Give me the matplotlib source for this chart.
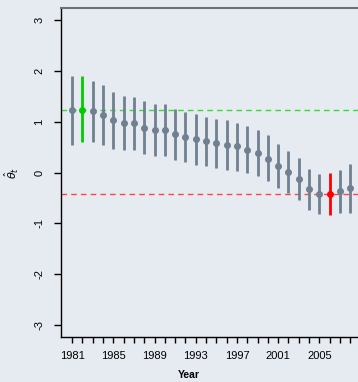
import numpy as np
import matplotlib.pyplot as plt

years = np.arange(1981, 2009)
estimate = [1.23, 1.235, 1.21, 1.14, 1.03, 0.97, 0.97, 0.88, 0.84, 0.84,
            0.76, 0.70, 0.66, 0.62, 0.58, 0.55, 0.52, 0.45, 0.39, 0.27,
            0.13, 0.02, -0.12, -0.33, -0.42, -0.425, -0.36, -0.31]
upper = [1.91, 1.91, 1.80, 1.72, 1.59, 1.50, 1.48, 1.40, 1.35, 1.35,
         1.25, 1.20, 1.15, 1.10, 1.06, 1.03, 0.97, 0.92, 0.83, 0.73,
         0.56, 0.43, 0.29, 0.065, -0.03, -0.01, 0.06, 0.16]
lower = [0.535, 0.60, 0.60, 0.55, 0.47, 0.44, 0.44, 0.36, 0.33, 0.33,
         0.255, 0.215, 0.157, 0.12, 0.09, 0.06, 0.04, 0.0, -0.07, -0.17,
         -0.31, -0.41, -0.54, -0.74, -0.82, -0.84, -0.79, -0.79]
max_year, min_year = 1982, 2006
xtick_labels = np.arange(1981, 2006, 4)

bg = '#e6eaf1'
gray = '#708090'

plt.rcParams['font.family'] = ['Liberation Sans', 'DejaVu Sans']

fig = plt.figure(figsize=(3.58, 3.82), dpi=100, facecolor=bg)
ax = fig.add_axes([0.1704, 0.1178, 0.839, 0.861], facecolor=bg)

est = np.array(estimate)
hi = np.array(upper)
lo = np.array(lower)
colors = [('#00cc00' if y == max_year else '#ff0000' if y == min_year else gray)
          for y in years]
for y, e, h, l, c in zip(years, est, hi, lo, colors):
    ax.plot([y, y], [l, h], color=c, lw=2, solid_capstyle='butt', zorder=2)
    ax.plot(y, e, 'o', color=c, ms=4, zorder=3)

ax.axhline(est[years == max_year][0], color='#33dd33', ls=(0, (4, 3)), lw=1, zorder=1)
ax.axhline(est[years == min_year][0], color='#ff4444', ls=(0, (4, 3)), lw=1, zorder=1)

ax.set_xlim(1979.92, 2009.08)
ax.set_ylim(-3.24, 3.24)

ax.set_xticks(years)
ax.set_xticklabels([str(y) if y in xtick_labels else '' for y in years], fontsize=8)
ax.tick_params(axis='x', length=4, width=1, pad=6)
ax.set_yticks(range(-3, 4))
ax.set_yticklabels([str(v) for v in range(-3, 4)], rotation=90, va='center', fontsize=8)
ax.tick_params(axis='y', length=5, width=1, pad=7)

ax.spines['right'].set_visible(False)
ax.spines['top'].set_color('#6b7079')
ax.spines['top'].set_linewidth(1.5)
for s in ['left', 'bottom']:
    ax.spines[s].set_linewidth(1)

ax.set_xlabel('Year', fontsize=7.5, fontweight='bold')
ax.xaxis.set_label_coords((189 - 61) / 300.3, -0.1)
ax.set_ylabel(r'$\hat{\theta}_t$', fontsize=8)
ax.yaxis.set_label_coords(-0.133, 0.5)

fig.savefig('out.png', dpi=100, facecolor=bg)
